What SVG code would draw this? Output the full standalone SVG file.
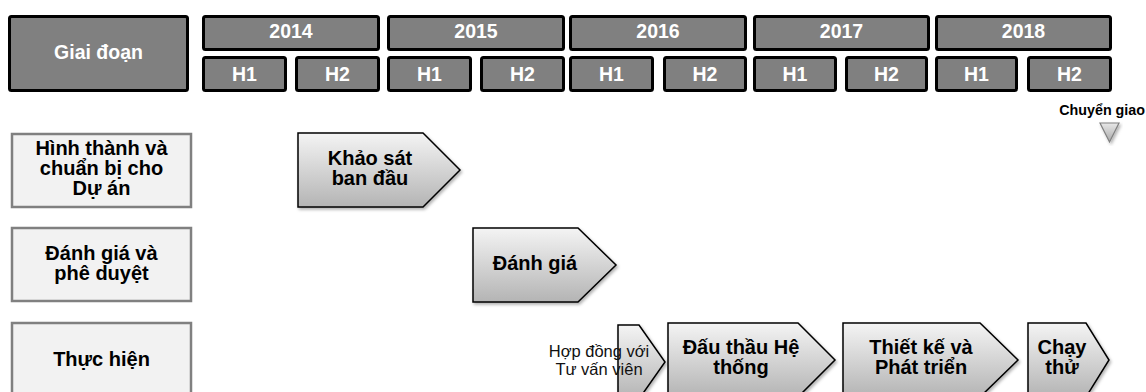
<svg xmlns="http://www.w3.org/2000/svg" width="1146" height="392" viewBox="0 0 1146 392">
<style>
.hdr{fill:#808080;stroke:#000;stroke-width:3}
.ht{font-family:"Liberation Sans",Arial,sans-serif;font-weight:bold;font-size:19.5px;fill:#fff;text-anchor:middle}
.lbl{fill:#f2f2f2;stroke:#808080;stroke-width:2.5}
.lt{font-family:"Liberation Sans",Arial,sans-serif;font-weight:bold;font-size:20px;fill:#000;text-anchor:middle}
.arr{fill:url(#g);stroke:#000;stroke-width:1.5;filter:url(#sh)}
.small{font-family:"Liberation Sans",Arial,sans-serif;font-size:16.5px;fill:#111;text-anchor:middle}
.cg{font-family:"Liberation Sans",Arial,sans-serif;font-weight:bold;font-size:14.3px;fill:#000;text-anchor:end}
</style>
<defs>
<linearGradient id="g" x1="0" y1="0" x2="0" y2="1">
<stop offset="0" stop-color="#f4f4f4"/>
<stop offset="1" stop-color="#b4b4b4"/>
</linearGradient>
<linearGradient id="tg" x1="0" y1="0" x2="0" y2="1">
<stop offset="0" stop-color="#e8e8e8"/>
<stop offset="1" stop-color="#a8a8a8"/>
</linearGradient>
<filter id="sh" x="-10%" y="-10%" width="130%" height="130%">
<feDropShadow dx="1.5" dy="2" stdDeviation="1.5" flood-color="#000" flood-opacity="0.3"/>
</filter>
</defs>

<g id="header">
<g id="giai-doan"><rect class="hdr" x="9.5" y="16.5" width="178" height="74" rx="2"/><text class="ht" x="98.5" y="59">Giai đoạn</text></g>
<g id="y2014"><rect class="hdr" x="203.5" y="16.5" width="175" height="33" rx="2"/><text class="ht" x="291" y="38">2014</text></g>
<g id="y2015"><rect class="hdr" x="388.5" y="16.5" width="175" height="33" rx="2"/><text class="ht" x="476" y="38">2015</text></g>
<g id="y2016"><rect class="hdr" x="570.5" y="16.5" width="175" height="33" rx="2"/><text class="ht" x="658" y="38">2016</text></g>
<g id="y2017"><rect class="hdr" x="754.5" y="16.5" width="174" height="33" rx="2"/><text class="ht" x="841.5" y="38">2017</text></g>
<g id="y2018"><rect class="hdr" x="936.5" y="16.5" width="174" height="33" rx="2"/><text class="ht" x="1023.5" y="38">2018</text></g>

<g id="h2014-1"><rect class="hdr" x="203.5" y="57.5" width="82" height="33" rx="2"/><text class="ht" x="244.5" y="81">H1</text></g>
<g id="h2014-2"><rect class="hdr" x="296.5" y="57.5" width="82" height="33" rx="2"/><text class="ht" x="337.5" y="81">H2</text></g>
<g id="h2015-1"><rect class="hdr" x="388.5" y="57.5" width="82" height="33" rx="2"/><text class="ht" x="429.5" y="81">H1</text></g>
<g id="h2015-2"><rect class="hdr" x="481.5" y="57.5" width="82" height="33" rx="2"/><text class="ht" x="522.5" y="81">H2</text></g>
<g id="h2016-1"><rect class="hdr" x="570.5" y="57.5" width="82" height="33" rx="2"/><text class="ht" x="611.5" y="81">H1</text></g>
<g id="h2016-2"><rect class="hdr" x="664.5" y="57.5" width="81" height="33" rx="2"/><text class="ht" x="705" y="81">H2</text></g>
<g id="h2017-1"><rect class="hdr" x="754.5" y="57.5" width="81" height="33" rx="2"/><text class="ht" x="795" y="81">H1</text></g>
<g id="h2017-2"><rect class="hdr" x="846.5" y="57.5" width="80" height="33" rx="2"/><text class="ht" x="886.5" y="81">H2</text></g>
<g id="h2018-1"><rect class="hdr" x="936.5" y="57.5" width="80" height="33" rx="2"/><text class="ht" x="976.5" y="81">H1</text></g>
<g id="h2018-2"><rect class="hdr" x="1028.5" y="57.5" width="82" height="33" rx="2"/><text class="ht" x="1069.5" y="81">H2</text></g>
</g>

<g id="row-labels">
<g id="lbl-hinh-thanh"><rect class="lbl" x="12" y="134" width="179" height="73"/>
<text class="lt" x="101.5" y="155">Hình thành và</text><text class="lt" x="101.5" y="175">chuẩn bị cho</text><text class="lt" x="101.5" y="195">Dự án</text></g>
<g id="lbl-danh-gia"><rect class="lbl" x="12" y="228" width="179" height="73"/>
<text class="lt" x="101.5" y="260">Đánh giá và</text><text class="lt" x="101.5" y="280">phê duyệt</text></g>
<g id="lbl-thuc-hien"><rect class="lbl" x="12" y="323" width="179" height="73"/>
<text class="lt" x="101.5" y="366">Thực hiện</text></g>
</g>

<g id="tasks">
<g id="khao-sat"><path class="arr" d="M298,133 H423 L460,170 L423,207 H298 Z"/>
<text class="lt" x="370" y="165">Khảo sát</text><text class="lt" x="370" y="185">ban đầu</text></g>
<g id="danh-gia"><path class="arr" d="M473,228 H578 L616,265 L578,302 H473 Z"/>
<text class="lt" x="535" y="270">Đánh giá</text></g>
<g id="hop-dong"><path class="arr" d="M618,325 H639 L665,362 L639,399 H618 Z"/>
<text class="small" x="599" y="357">Hợp đồng với</text><text class="small" x="599" y="375">Tư vấn viên</text></g>
<g id="dau-thau"><path class="arr" d="M668,323 H798 L835,360 L798,397 H668 Z"/>
<text class="lt" x="741" y="354">Đấu thầu Hệ</text><text class="lt" x="741" y="374">thống</text></g>
<g id="thiet-ke"><path class="arr" d="M843,323 H980 L1018,360 L980,397 H843 Z"/>
<text class="lt" x="921" y="354">Thiết kế và</text><text class="lt" x="921" y="374">Phát triển</text></g>
<g id="chay-thu"><path class="arr" d="M1028,323 H1086 L1109,360 L1086,397 H1028 Z"/>
<text class="lt" x="1062" y="354">Chạy</text><text class="lt" x="1062" y="374">thử</text></g>
</g>

<g id="milestone">
<text class="cg" x="1145" y="115">Chuyển giao</text>
<path d="M1100,123 H1119 L1109.5,142 Z" fill="url(#tg)" stroke="#808080" stroke-width="1.2" filter="url(#sh)"/>
</g>
<g id="connectors"/>
</svg>
